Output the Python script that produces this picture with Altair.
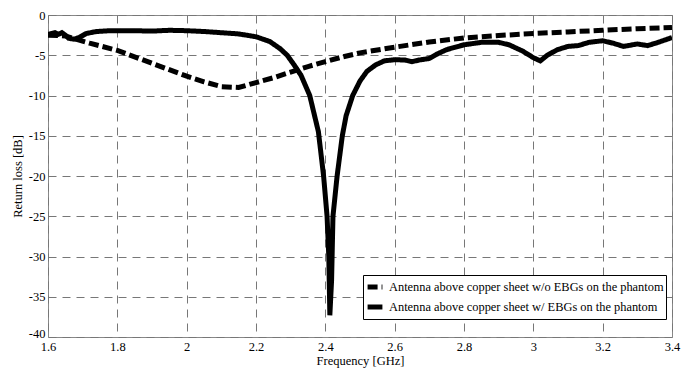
import altair as alt
import pandas as pd

series_names = [
    "Antenna above copper sheet w/o EBGs on the phantom",
    "Antenna above copper sheet w/ EBGs on the phantom",
]

freq_wo = [1.6, 1.65, 1.68, 1.72, 1.8, 1.9, 2.0, 2.05, 2.1, 2.15, 2.2, 2.25, 2.3,
           2.35, 2.4, 2.45, 2.5, 2.6, 2.7, 2.8, 2.9, 3.0, 3.1, 3.2, 3.3, 3.4]
rl_wo = [-2.5, -2.6, -3.0, -3.5, -4.4, -6.0, -7.6, -8.3, -8.9, -9.0, -8.4, -7.8, -7.1,
         -6.4, -5.8, -5.2, -4.7, -4.0, -3.35, -2.85, -2.55, -2.3, -2.1, -1.9, -1.7, -1.55]

freq_w = [1.6, 1.61, 1.62, 1.63, 1.64, 1.65, 1.66, 1.675, 1.69, 1.71, 1.74, 1.78,
          1.85, 1.9, 1.95, 2.0, 2.05, 2.1, 2.15, 2.2, 2.24, 2.27, 2.29, 2.31, 2.33,
          2.355, 2.38, 2.395, 2.405, 2.41, 2.413, 2.418, 2.422, 2.434, 2.449, 2.46,
          2.479, 2.5, 2.52, 2.545, 2.57, 2.6, 2.63, 2.65, 2.67, 2.7, 2.72, 2.75, 2.8,
          2.85, 2.9, 2.93, 2.97, 3.0, 3.02, 3.04, 3.07, 3.1, 3.13, 3.16, 3.2, 3.23,
          3.26, 3.3, 3.33, 3.36, 3.4]
rl_w = [-2.4, -2.3, -2.2, -2.4, -2.2, -2.5, -2.9, -3.0, -2.8, -2.3, -2.05, -1.95,
        -1.95, -2.0, -1.9, -1.95, -2.05, -2.2, -2.35, -2.7, -3.3, -4.2, -5.0, -6.2, -7.5,
        -10.0, -14.5, -20.0, -25.0, -30.0, -37.3, -33.0, -25.0, -20.0, -15.0, -12.5,
        -10.0, -8.2, -7.0, -6.2, -5.7, -5.55, -5.6, -5.8, -5.6, -5.4, -4.9, -4.3, -3.7,
        -3.4, -3.4, -3.7, -4.5, -5.3, -5.7, -5.0, -4.3, -3.9, -3.8, -3.4, -3.2, -3.5,
        -3.9, -3.6, -3.8, -3.4, -2.8]

x_ticks = [1.6, 1.8, 2.0, 2.2, 2.4, 2.6, 2.8, 3.0, 3.2, 3.4]
y_ticks = [0, -5, -10, -15, -20, -25, -30, -35, -40]

df = pd.concat([
    pd.DataFrame({"f": freq_wo, "rl": rl_wo, "series": series_names[0]}),
    pd.DataFrame({"f": freq_w, "rl": rl_w, "series": series_names[1]}),
])

FONT = "Liberation Serif"

chart = alt.Chart(df).mark_line(strokeWidth=5, color="black", clip=True).encode(
    x=alt.X("f:Q", scale=alt.Scale(domain=[1.6, 3.4], nice=False, zero=False),
            axis=alt.Axis(values=x_ticks, title="Frequency [GHz]",
                          labelExpr="'' + datum.value", labelPadding=3,
                          labelFlush=False, titlePadding=2)),
    y=alt.Y("rl:Q", scale=alt.Scale(domain=[-40, 0], nice=False),
            axis=alt.Axis(values=y_ticks, title="Return loss [dB]",
                          labelExpr="'' + datum.value", labelPadding=3,
                          labelFlush=False, titlePadding=4,
                          labelBaseline={"condition": {"test": "datum.value == -40",
                                                       "value": "alphabetic"},
                                         "value": "middle"})),
    strokeDash=alt.StrokeDash(
        "series:N",
        scale=alt.Scale(domain=series_names, range=[[10, 4], [1, 0]]),
        legend=alt.Legend(
            title=None, orient="none", legendX=315, legendY=260,
            fillColor="white", strokeColor="black", padding=2,
            symbolType="stroke", symbolSize=220, symbolStrokeWidth=5,
            symbolStrokeColor="black", labelFont=FONT, labelFontSize=12.4,
            labelColor="black", rowPadding=0, labelOffset=4, labelLimit=400,
        ),
    ),
    order=alt.Order("f:Q"),
).properties(
    width=624, height=322,
    padding={"left": 40, "top": 7, "right": 16, "bottom": 34},
    autosize="none",
    background="white",
).configure_view(
    stroke="#888", strokeWidth=1
).configure_axis(
    grid=True, gridColor="#777", gridDash=[8, 6], gridWidth=1,
    domain=False, ticks=False,
    labelFont=FONT, labelFontSize=12.5, labelColor="black",
    titleFont=FONT, titleFontSize=12.5, titleFontWeight="normal", titleColor="black",
)

chart.save("out.html", embed_options={"renderer": "svg", "actions": False})
